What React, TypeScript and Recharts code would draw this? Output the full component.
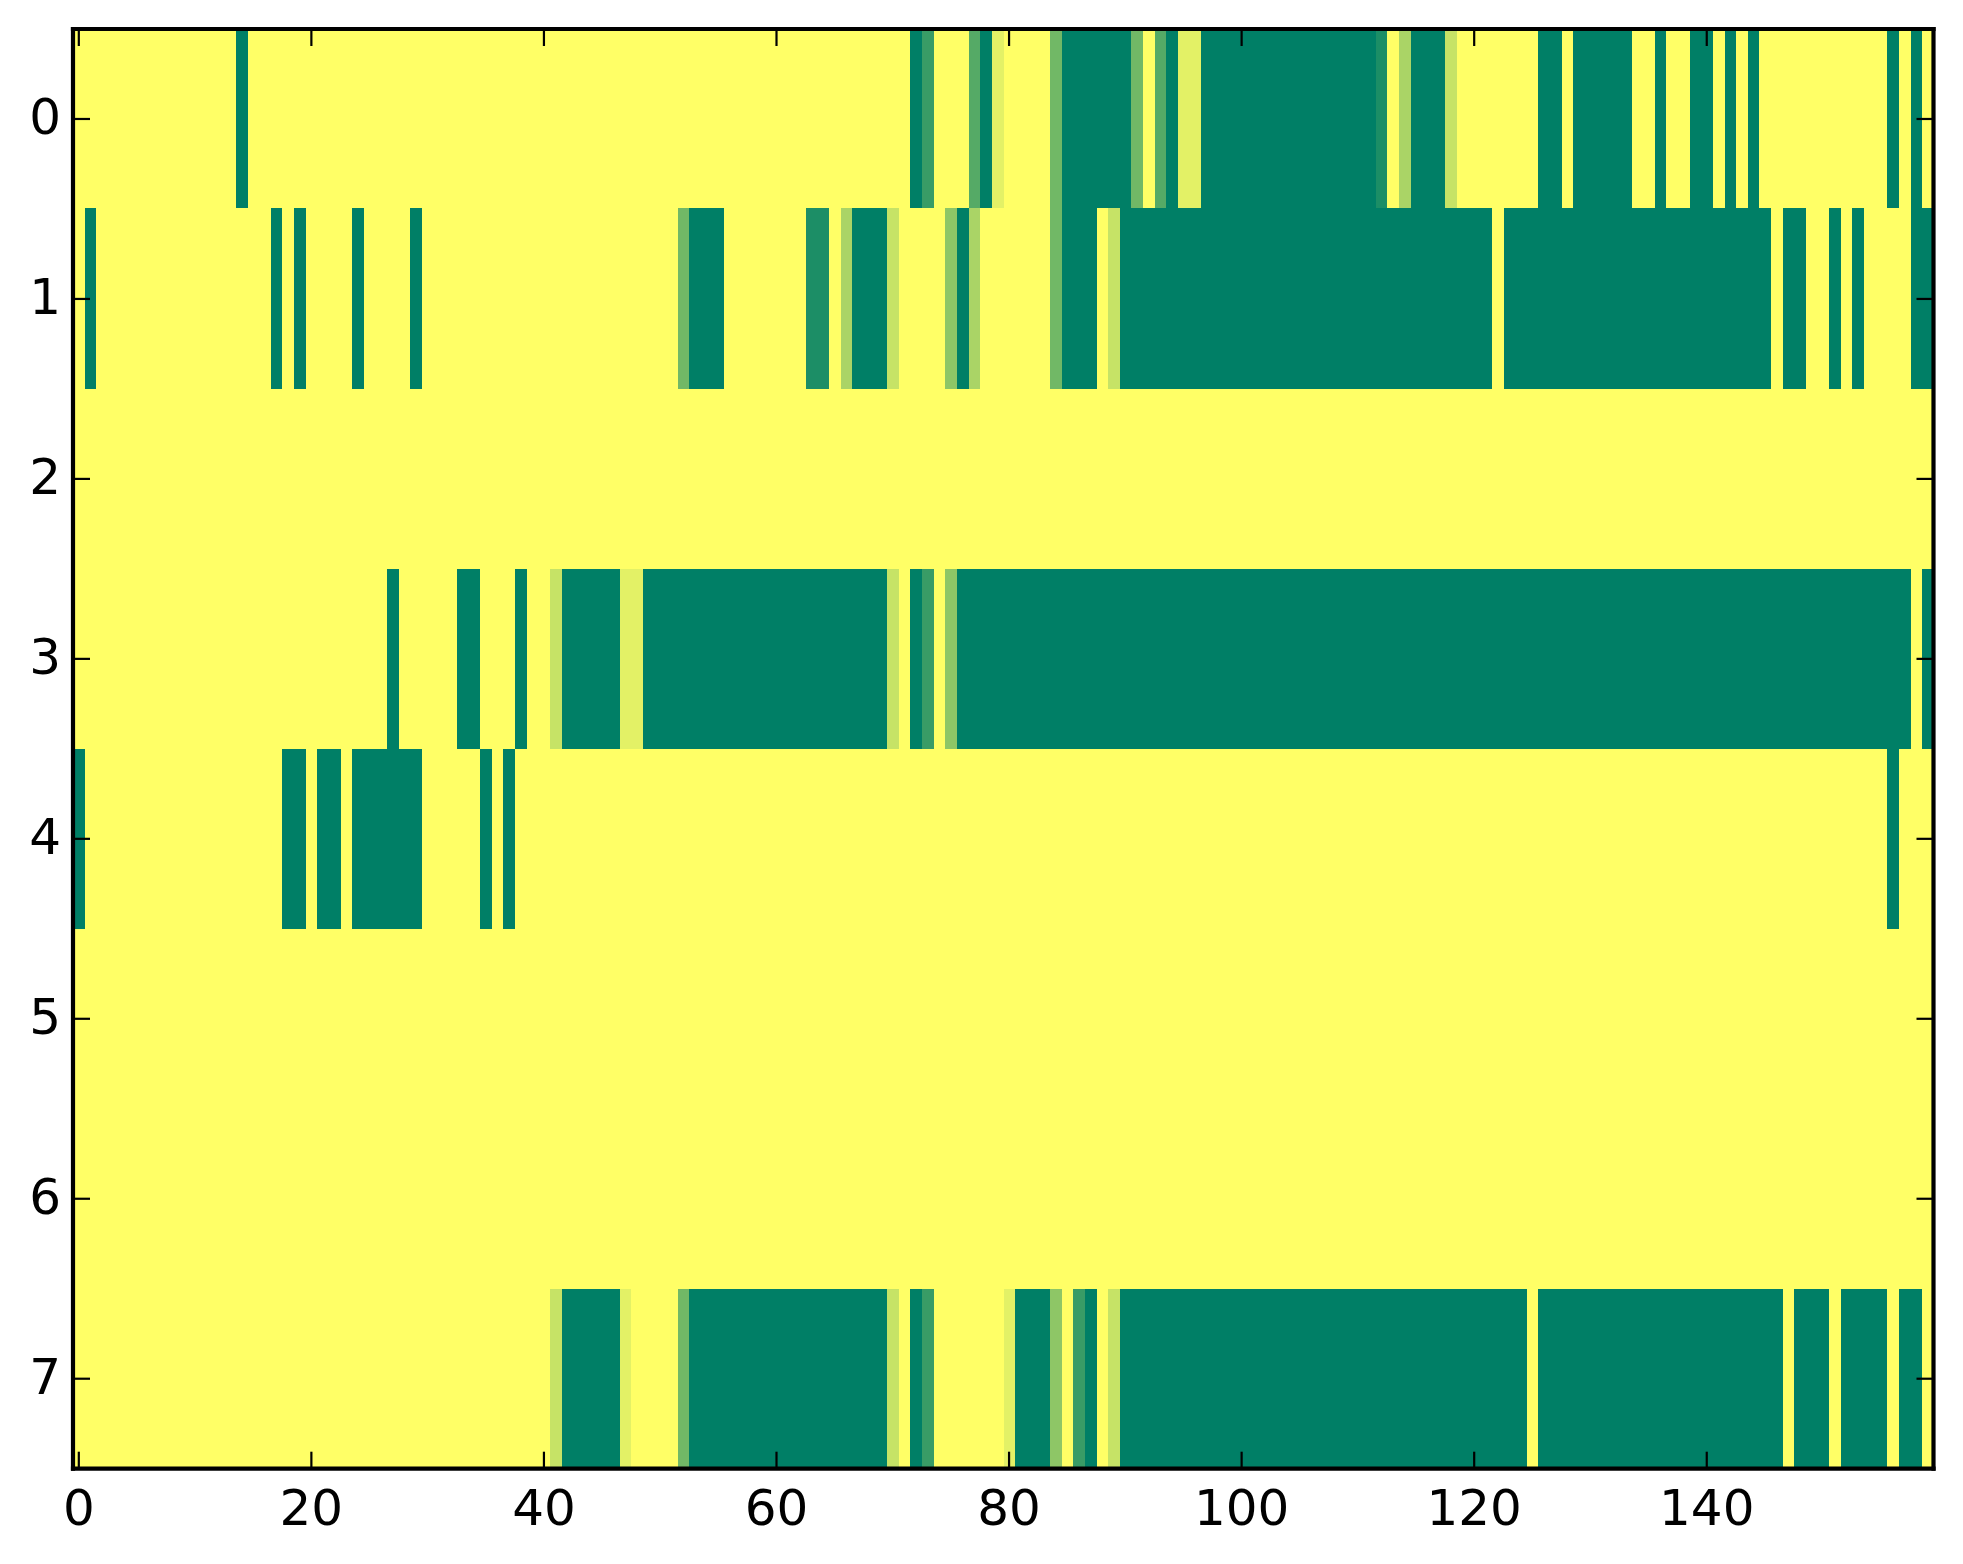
import { BarChart, Bar, Cell, XAxis, YAxis } from "recharts";

// runs of [first column, last column, level], everything else is level 0
const row0 = [[14, 14, 9], [72, 72, 9], [73, 73, 7], [77, 77, 6], [78, 78, 9], [79, 79, 1], [84, 84, 5], [85, 90, 9], [91, 91, 5], [93, 93, 6], [94, 94, 9], [95, 96, 1], [97, 111, 9], [112, 112, 8], [114, 114, 3], [115, 117, 9], [118, 118, 2], [126, 127, 9], [129, 133, 9], [136, 136, 9], [139, 140, 9], [142, 142, 9], [144, 144, 9], [156, 156, 9], [158, 158, 9]];
const row1 = [[1, 1, 9], [17, 17, 9], [19, 19, 9], [24, 24, 9], [29, 29, 9], [52, 52, 5], [53, 55, 9], [63, 64, 8], [66, 66, 3], [67, 69, 9], [70, 70, 2], [75, 75, 4], [76, 76, 9], [77, 77, 3], [84, 84, 5], [85, 87, 9], [89, 89, 2], [90, 121, 9], [123, 145, 9], [147, 148, 9], [151, 151, 9], [153, 153, 9], [158, 159, 9]];
const row2: number[][] = [];
const row3 = [[27, 27, 9], [33, 34, 9], [38, 38, 9], [41, 41, 2], [42, 46, 9], [47, 48, 1], [49, 69, 9], [70, 70, 2], [72, 72, 9], [73, 73, 7], [75, 75, 4], [76, 157, 9], [159, 159, 9]];
const row4 = [[0, 0, 9], [18, 19, 9], [21, 22, 9], [24, 29, 9], [35, 35, 9], [37, 37, 9], [156, 156, 9]];
const row5: number[][] = [];
const row6: number[][] = [];
const row7 = [[41, 41, 2], [42, 46, 9], [47, 47, 1], [52, 52, 5], [53, 69, 9], [70, 70, 2], [72, 72, 9], [73, 73, 7], [80, 80, 1], [81, 83, 9], [84, 84, 4], [86, 86, 7], [87, 87, 9], [89, 89, 2], [90, 124, 9], [126, 146, 9], [148, 150, 9], [152, 155, 9], [157, 158, 9]];

const rows = [row0, row1, row2, row3, row4, row5, row6, row7];
const xTicks = [0, 20, 40, 60, 80, 100, 120, 140];
const yTicks = [0.5, 1.5, 2.5, 3.5, 4.5, 5.5, 6.5, 7.5];

// summer_r in ten steps
const palette = ["#ffff66", "#e3f166", "#c6e366", "#aad466", "#8ec666", "#71b866", "#55aa66", "#399c66", "#1c8e66", "#007f66"];

const columns = Array.from({ length: 160 }, (_, i) => i);

const levelAt = (runs: number[][], col: number) => {
  const run = runs.find((r) => col >= r[0] && col <= r[1]);
  return run ? run[2] : 0;
};

const data = columns.map((col) => {
  const d: Record<string, number> = { col };
  rows.forEach((_, r) => {
    d[`r${r}`] = 1;
  });
  return d;
});

const WIDTH = 1963;
const HEIGHT = 1564;
const PLOT = { top: 28.35, right: 29.1, bottom: 94.85, left: 73.1 };
const FRAME = { top: 29, right: 29.5, bottom: 95.3, left: 73 };

const tickFont = { fontSize: 50, fontFamily: "DejaVu Sans", fill: "#000" };
const axisLine = { stroke: "#000", strokeWidth: 4.2, strokeLinecap: "square" as const };
const tickLine = { stroke: "#000", strokeWidth: 2.2 };
const noLabel = () => "";

// bars cover the axes in recharts 3, so the frame and ticks get their own chart on top
export default function App() {
  return (
    <div style={{ position: "absolute", left: 0, top: 0, width: WIDTH, height: HEIGHT }}>
      <div style={{ position: "absolute", left: 0, top: 0, shapeRendering: "crispEdges" }}>
        <BarChart width={WIDTH} height={HEIGHT} data={data} barCategoryGap={0} barGap={0} margin={PLOT}>
          <XAxis dataKey="col" hide />
          <YAxis type="number" domain={[0, 8]} reversed hide />
          {rows.map((runs, r) => (
            <Bar key={r} dataKey={`r${r}`} stackId="img" isAnimationActive={false} stroke="none">
              {columns.map((col) => (
                <Cell key={col} fill={palette[levelAt(runs, col)]} />
              ))}
            </Bar>
          ))}
        </BarChart>
      </div>
      <div style={{ position: "absolute", left: 0, top: 0 }}>
        <BarChart width={WIDTH} height={HEIGHT} data={data} margin={{ top: 0, right: 0, bottom: 0, left: 0 }}>
          <Bar dataKey="r0" fill="none" stroke="none" isAnimationActive={false} />
          <Bar dataKey="r1" xAxisId="top" yAxisId="right" fill="none" stroke="none" isAnimationActive={false} />
          <XAxis
            dataKey="col"
            xAxisId={0}
            orientation="bottom"
            height={FRAME.bottom}
            ticks={xTicks}
            interval={0}
            tick={tickFont}
            tickSize={-17}
            tickMargin={38}
            axisLine={axisLine}
            tickLine={tickLine}
          />
          <XAxis
            dataKey="col"
            xAxisId="top"
            orientation="top"
            height={FRAME.top}
            ticks={xTicks}
            interval={0}
            tickFormatter={noLabel}
            tickSize={-17}
            axisLine={axisLine}
            tickLine={tickLine}
          />
          <YAxis
            yAxisId={0}
            type="number"
            domain={[0, 8]}
            reversed
            width={FRAME.left}
            ticks={yTicks}
            interval={0}
            tick={{ ...tickFont, dy: -2.8 }}
            tickFormatter={(v: number) => String(v - 0.5)}
            tickSize={-17}
            tickMargin={29}
            axisLine={axisLine}
            tickLine={tickLine}
          />
          <YAxis
            yAxisId="right"
            type="number"
            orientation="right"
            domain={[0, 8]}
            reversed
            width={FRAME.right}
            ticks={yTicks}
            interval={0}
            tickFormatter={noLabel}
            tickSize={-17}
            axisLine={axisLine}
            tickLine={tickLine}
          />
        </BarChart>
      </div>
    </div>
  );
}
